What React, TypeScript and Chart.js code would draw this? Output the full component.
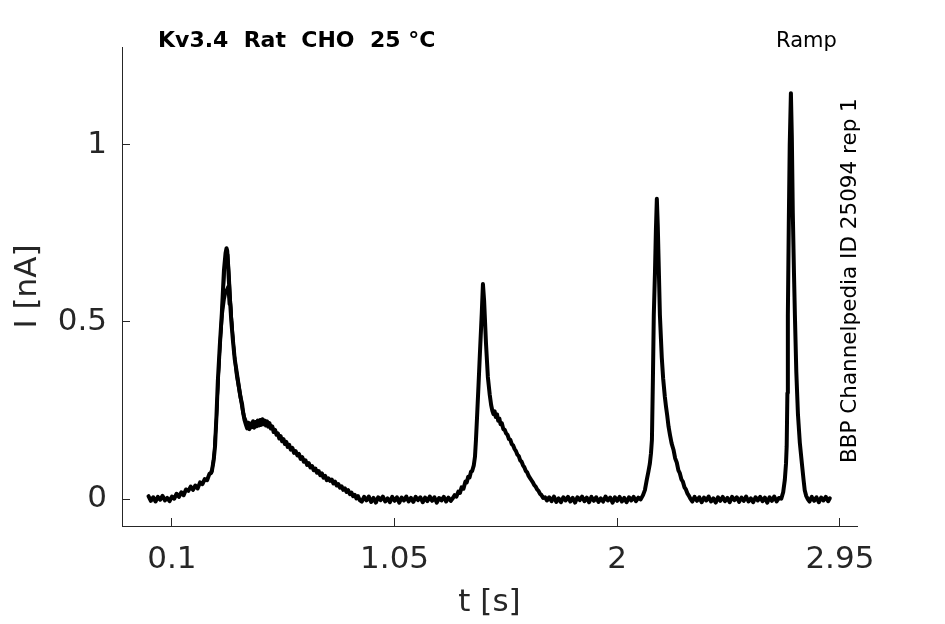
import React, { useEffect, useRef } from "react";
import { Chart, registerables } from "chart.js";

Chart.register(...registerables);

// recorded sweep (t in s, I in nA)
const sweepTime = [
  // baseline + slow onset
  0.00, 0.01, 0.02, 0.03, 0.04, 0.05, 0.06, 0.07, 0.08, 0.09,
  0.10, 0.11, 0.12, 0.13, 0.14, 0.15, 0.16, 0.17, 0.18, 0.19,
  0.20, 0.21, 0.22, 0.23, 0.24, 0.25, 0.26,
  // peak 1
  0.266, 0.271, 0.278, 0.284, 0.290, 0.296, 0.304, 0.313, 0.322, 0.329,
  0.333, 0.336, 0.340, 0.347, 0.353, 0.360, 0.368, 0.377, 0.385, 0.392,
  0.399, 0.405, 0.410,
  0.416, 0.421, 0.426, 0.431, 0.436, 0.441, 0.446, 0.451, 0.456, 0.461,
  0.466, 0.471, 0.476, 0.481, 0.486, 0.491, 0.496, 0.501, 0.506, 0.511,
  0.516, 0.522, 0.528, 0.534, 0.540, 0.546, 0.552, 0.558, 0.564, 0.570,
  0.576, 0.582, 0.588, 0.594, 0.600, 0.607, 0.614, 0.621, 0.628, 0.635,
  0.642, 0.649, 0.656, 0.663, 0.670, 0.677, 0.684, 0.691, 0.698, 0.705,
  0.712, 0.719, 0.726, 0.733, 0.740, 0.747, 0.754, 0.761, 0.768, 0.775,
  0.782, 0.789, 0.796, 0.803, 0.810, 0.817, 0.824, 0.831, 0.838, 0.845,
  0.852, 0.859, 0.866, 0.873, 0.880, 0.887, 0.894, 0.901,
  // baseline
  0.91, 0.92, 0.93, 0.94, 0.95, 0.96, 0.97, 0.98, 0.99, 1.00,
  1.01, 1.02, 1.03, 1.04, 1.05, 1.06, 1.07, 1.08, 1.09, 1.10,
  1.11, 1.12, 1.13, 1.14, 1.15, 1.16, 1.17, 1.18, 1.19, 1.20,
  1.21, 1.22, 1.23, 1.24, 1.25, 1.26, 1.27, 1.28, 1.29, 1.299,
  // peak 2
  1.306, 1.314, 1.322, 1.329, 1.336, 1.344, 1.352, 1.358, 1.364, 1.370,
  1.376, 1.381, 1.388, 1.393, 1.397, 1.401, 1.408, 1.414, 1.422, 1.427,
  1.432, 1.440, 1.448, 1.456, 1.462, 1.467, 1.472, 1.477, 1.482, 1.487,
  1.492, 1.497, 1.502, 1.508, 1.514, 1.520, 1.526, 1.532, 1.538, 1.544,
  1.550, 1.556, 1.562, 1.568, 1.574, 1.580, 1.586, 1.592, 1.598, 1.604,
  1.610, 1.616, 1.622, 1.628, 1.634, 1.640, 1.646, 1.652, 1.658, 1.664,
  1.670, 1.677, 1.684, 1.692, 1.700,
  // baseline
  1.71, 1.72, 1.73, 1.74, 1.75, 1.76, 1.77, 1.78, 1.79, 1.80,
  1.81, 1.82, 1.83, 1.84, 1.85, 1.86, 1.87, 1.88, 1.89, 1.90,
  1.91, 1.92, 1.93, 1.94, 1.95, 1.96, 1.97, 1.98, 1.99, 2.00,
  2.01, 2.02, 2.03, 2.04, 2.05, 2.06, 2.07, 2.08, 2.09, 2.10,
  // peak 3
  2.110, 2.118, 2.126, 2.133, 2.139, 2.144, 2.148, 2.152, 2.156, 2.161,
  2.165, 2.169, 2.173, 2.177, 2.182, 2.190, 2.196, 2.203, 2.208, 2.213,
  2.219, 2.225, 2.232, 2.240, 2.247, 2.254, 2.261, 2.267, 2.274, 2.280,
  2.287, 2.293, 2.300, 2.306, 2.312,
  // baseline
  2.32, 2.33, 2.34, 2.35, 2.36, 2.37, 2.38, 2.39, 2.40, 2.41,
  2.42, 2.43, 2.44, 2.45, 2.46, 2.47, 2.48, 2.49, 2.50, 2.51,
  2.52, 2.53, 2.54, 2.55, 2.56, 2.57, 2.58, 2.59, 2.60, 2.61,
  2.62, 2.63, 2.64, 2.65, 2.66, 2.67, 2.68, 2.69, 2.70,
  // peak 4
  2.708, 2.715, 2.720, 2.723, 2.726, 2.728, 2.732, 2.736, 2.741, 2.745,
  2.749, 2.754, 2.758, 2.764, 2.771, 2.779, 2.788, 2.795, 2.800, 2.806,
  2.813,
  // baseline
  2.82, 2.83, 2.84, 2.85, 2.86, 2.87, 2.88, 2.89, 2.90, 2.907,
];

const sweepCurrent = [
  0.009, -0.004, 0.006, -0.006, 0.007, -0.001, 0.010, -0.003, 0.004, -0.005,
  0.008, 0.002, 0.016, 0.007, 0.020, 0.012, 0.028, 0.024, 0.036, 0.027,
  0.039, 0.031, 0.048, 0.043, 0.057, 0.054, 0.072,
  0.074, 0.082, 0.110, 0.150, 0.235, 0.335, 0.430, 0.525, 0.646, 0.695,
  0.708, 0.700, 0.650, 0.570, 0.505, 0.450, 0.395, 0.356, 0.320, 0.290,
  0.270, 0.240, 0.223,
  0.210, 0.200, 0.216, 0.198, 0.214, 0.204, 0.220, 0.202, 0.218, 0.206,
  0.222, 0.208, 0.224, 0.210, 0.226, 0.212, 0.222, 0.208, 0.220, 0.205,
  0.215, 0.200, 0.206, 0.190, 0.196, 0.182, 0.186, 0.172, 0.178, 0.164,
  0.170, 0.156, 0.162, 0.148, 0.154, 0.140, 0.145, 0.131, 0.136, 0.124,
  0.128, 0.114, 0.119, 0.106, 0.110, 0.097, 0.102, 0.090, 0.094, 0.082,
  0.087, 0.075, 0.080, 0.068, 0.073, 0.061, 0.066, 0.054, 0.059, 0.052,
  0.056, 0.045, 0.050, 0.039, 0.043, 0.033, 0.037, 0.027, 0.031, 0.021,
  0.026, 0.015, 0.019, 0.009, 0.013, 0.003, 0.009, -0.002,
  -0.006, 0.007, -0.003, 0.008, -0.007, 0.004, -0.009, 0.006, -0.002, 0.008,
  -0.006, 0.003, -0.008, 0.007, -0.004, 0.006, -0.009, 0.005, -0.003, 0.008,
  -0.006, 0.004, -0.007, 0.007, -0.002, 0.006, -0.008, 0.005, -0.005, 0.008,
  -0.004, 0.006, -0.009, 0.004, -0.003, 0.007, -0.006, 0.005, -0.004, 0.004,
  0.012, 0.008, 0.022, 0.018, 0.034, 0.030, 0.050, 0.048, 0.064, 0.062,
  0.078, 0.080, 0.096, 0.120, 0.165, 0.220, 0.320, 0.410, 0.525, 0.607,
  0.560, 0.440, 0.345, 0.295, 0.266, 0.250, 0.240, 0.248, 0.232, 0.240,
  0.222, 0.228, 0.212, 0.214, 0.198, 0.196, 0.186, 0.182, 0.170, 0.168,
  0.156, 0.152, 0.142, 0.136, 0.126, 0.122, 0.110, 0.106, 0.096, 0.090,
  0.080, 0.076, 0.066, 0.060, 0.054, 0.048, 0.040, 0.036, 0.028, 0.024,
  0.016, 0.012, 0.004, 0.006, -0.003,
  0.006, -0.005, 0.008, -0.007, 0.003, -0.008, 0.006, -0.003, 0.007, -0.006,
  0.004, -0.009, 0.006, -0.002, 0.008, -0.005, 0.005, -0.008, 0.007, -0.004,
  0.006, -0.007, 0.003, -0.006, 0.008, -0.003, 0.005, -0.009, 0.006, -0.004,
  0.007, -0.006, 0.004, -0.008, 0.006, -0.003, 0.007, -0.005, 0.005, 0.000,
  0.012, 0.026, 0.055, 0.078, 0.100, 0.130, 0.168, 0.330, 0.520, 0.640,
  0.760, 0.847, 0.770, 0.660, 0.520, 0.400, 0.340, 0.290, 0.262, 0.238,
  0.205, 0.182, 0.158, 0.140, 0.116, 0.104, 0.082, 0.074, 0.056, 0.050,
  0.034, 0.028, 0.016, 0.010, 0.002,
  -0.006, 0.007, -0.004, 0.006, -0.008, 0.005, -0.003, 0.008, -0.006, 0.003,
  -0.009, 0.006, -0.004, 0.007, -0.005, 0.004, -0.008, 0.007, -0.002, 0.006,
  -0.007, 0.005, -0.004, 0.008, -0.006, 0.003, -0.008, 0.006, -0.003, 0.007,
  -0.005, 0.005, -0.009, 0.006, -0.004, 0.008, -0.006, 0.004, 0.002,
  0.020, 0.055, 0.100, 0.150, 0.300, 0.520, 0.780, 1.000, 1.145, 1.020,
  0.810, 0.640, 0.520, 0.360, 0.240, 0.160, 0.100, 0.055, 0.026, 0.010,
  0.001,
  -0.006, 0.007, -0.004, 0.006, -0.008, 0.005, -0.003, 0.007, -0.005, 0.003,
];

// repeated sweeps, first peak
const repeatTime = [
  0.270, 0.280, 0.290, 0.298, 0.306, 0.315, 0.324, 0.332, 0.339, 0.344,
  0.350, 0.358, 0.366, 0.375, 0.384, 0.393, 0.402, 0.410, 0.420,
];
const repeatCurrentA = [
  0.075, 0.120, 0.225, 0.345, 0.450, 0.545, 0.640, 0.680, 0.690, 0.640,
  0.560, 0.470, 0.410, 0.365, 0.330, 0.295, 0.255, 0.232, 0.215,
];
const repeatCurrentB = [
  0.078, 0.125, 0.230, 0.340, 0.440, 0.520, 0.565, 0.590, 0.600, 0.550,
  0.555, 0.480, 0.410, 0.350, 0.315, 0.280, 0.245, 0.225, 0.210,
];

const xTicks = [0.1, 1.05, 2, 2.95];
const yTicks = [0, 0.5, 1];

const titleText = "Kv3.4  Rat  CHO  25 °C";
const protocolText = "Ramp";
const sourceText = "BBP Channelpedia ID 25094 rep 1";

const FONT = "'DejaVu Sans'";
const AXIS = "#262626";

const toPoints = (ts: number[], vs: number[]) => ts.map((t, i) => ({ x: t, y: vs[i] }));

const textPlugin = {
  id: "textPlugin",
  afterDraw(chart: any) {
    const { ctx } = chart;
    ctx.save();
    ctx.fillStyle = "#000";
    ctx.textAlign = "left";
    ctx.textBaseline = "alphabetic";
    ctx.font = `bold 22px ${FONT}`;
    ctx.fillText(titleText, 158, 47);
    ctx.font = `21px ${FONT}`;
    ctx.fillText(protocolText, 776, 47);
    ctx.font = `21.5px ${FONT}`;
    ctx.translate(856, 463);
    ctx.rotate(-Math.PI / 2);
    ctx.fillText(sourceText, 0, 0);
    ctx.restore();
  },
};

const App = () => {
  const canvasRef = useRef<HTMLCanvasElement | null>(null);

  useEffect(() => {
    if (!canvasRef.current) return;
    const line = (data: { x: number; y: number }[], w: number) => ({
      data,
      borderColor: "#000",
      borderWidth: w,
      pointRadius: 0,
      tension: 0,
      borderJoinStyle: "round" as const,
      borderCapStyle: "round" as const,
    });
    const chart = new Chart(canvasRef.current, {
      type: "line",
      data: {
        datasets: [
          line(toPoints(sweepTime, sweepCurrent), 4),
          line(toPoints(repeatTime, repeatCurrentA), 3),
          line(toPoints(repeatTime, repeatCurrentB), 3),
        ],
      },
      options: {
        animation: false,
        responsive: false,
        layout: { padding: { left: 0, top: 47, right: 88, bottom: 0 } },
        plugins: { legend: { display: false }, tooltip: { enabled: false } },
        scales: {
          x: {
            type: "linear",
            min: -0.113,
            max: 3.023,
            afterBuildTicks: (s: any) => {
              s.ticks = xTicks.map((v) => ({ value: v }));
            },
            afterFit: (s: any) => {
              s.height = 98;
            },
            ticks: {
              font: { family: "DejaVu Sans", size: 31 },
              color: AXIS,
              padding: 23,
              maxRotation: 0,
              autoSkip: false,
              callback: (v: any) => String(v),
            },
            grid: { drawOnChartArea: false, drawTicks: true, tickLength: -8, color: AXIS },
            border: { color: AXIS, width: 1 },
            title: {
              display: true,
              text: "t [s]",
              font: { family: "DejaVu Sans", size: 31 },
              color: AXIS,
              padding: { top: 0, bottom: 2 },
            },
          },
          y: {
            type: "linear",
            min: -0.075,
            max: 1.275,
            afterBuildTicks: (s: any) => {
              s.ticks = yTicks.map((v) => ({ value: v }));
            },
            afterFit: (s: any) => {
              s.width = 122;
            },
            ticks: {
              font: { family: "DejaVu Sans", size: 31 },
              color: AXIS,
              padding: 23,
              callback: (v: any) => String(v),
            },
            grid: { drawOnChartArea: false, drawTicks: true, tickLength: -8, color: AXIS },
            border: { color: AXIS, width: 1 },
            title: {
              display: true,
              text: "I [nA]",
              font: { family: "DejaVu Sans", size: 31 },
              color: AXIS,
              padding: { top: 9, bottom: 0 },
            },
          },
        },
      } as any,
      plugins: [textPlugin],
    });
    return () => chart.destroy();
  }, []);

  return (
    <div style={{ position: "absolute", left: 0, top: 0, width: 945, height: 624, background: "#fff" }}>
      <canvas ref={canvasRef} width={945} height={624} style={{ display: "block", width: 945, height: 624 }} />
    </div>
  );
};

export default App;
